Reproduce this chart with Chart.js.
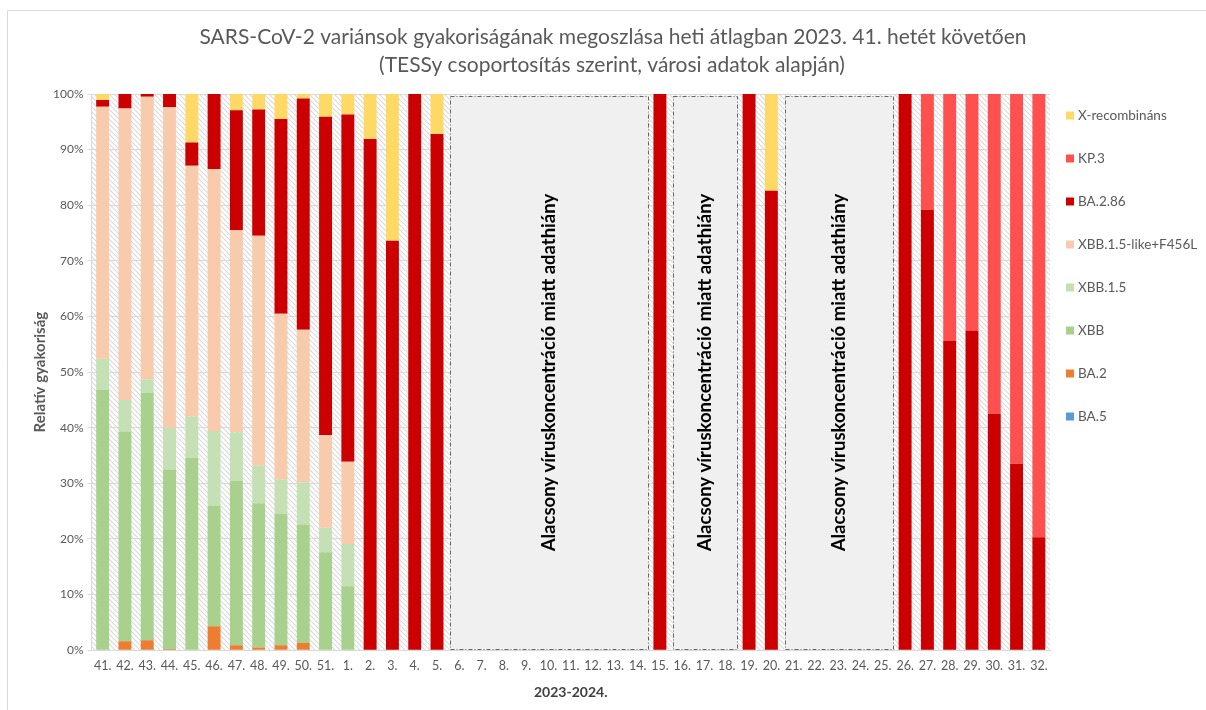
<!DOCTYPE html>
<html lang="hu">
<head>
<meta charset="utf-8">
<title>SARS-CoV-2 variánsok</title>
<script src="https://cdn.jsdelivr.net/npm/chart.js@4.4.1/dist/chart.umd.min.js"></script>
<style>
  html, body { margin: 0; padding: 0; background: #fff; }
  #wrap { width: 1206px; height: 710px; position: relative; }
</style>
</head>
<body>
<div id="wrap"><canvas id="chart"></canvas></div>
<script>
/* ---- Adatok ---- */
const weeks = ['41.','42.','43.','44.','45.','46.','47.','48.','49.','50.','51.','1.','2.','3.','4.','5.',
  '6.','7.','8.','9.','10.','11.','12.','13.','14.','15.','16.','17.','18.','19.','20.',
  '21.','22.','23.','24.','25.','26.','27.','28.','29.','30.','31.','32.'];

const ba5     = [0,0,0,0,0,0,0,0,0,0,0,0,0,0,0,0, null,null,null,null,null,null,null,null,null, 0, null,null,null, 0,0, null,null,null,null,null, 0,0,0,0,0,0,0];
const ba2     = [0,1.6,1.8,0.2,0,4.3,0.9,0.5,0.9,1.3,0,0,0,0,0,0, null,null,null,null,null,null,null,null,null, 0, null,null,null, 0,0, null,null,null,null,null, 0,0,0,0,0,0,0];
const xbb     = [46.8,37.7,44.5,32.3,34.6,21.7,29.5,25.9,23.6,21.3,17.6,11.5,0,0,0,0, null,null,null,null,null,null,null,null,null, 0, null,null,null, 0,0, null,null,null,null,null, 0,0,0,0,0,0,0];
const xbb15   = [5.6,5.7,2.4,7.5,7.4,13.4,8.8,6.8,6.2,7.6,4.4,7.6,0,0,0,0, null,null,null,null,null,null,null,null,null, 0, null,null,null, 0,0, null,null,null,null,null, 0,0,0,0,0,0,0];
const f456l   = [45.3,52.4,50.8,57.6,45.1,47.1,36.3,41.3,29.8,27.4,16.7,14.8,0,0,0,0, null,null,null,null,null,null,null,null,null, 0, null,null,null, 0,0, null,null,null,null,null, 0,0,0,0,0,0,0];
const ba286   = [1.2,2.6,0.5,2.4,4.2,13.5,21.6,22.7,35.0,41.6,57.2,62.4,91.9,73.6,100,92.8, null,null,null,null,null,null,null,null,null, 100, null,null,null, 100,82.6, null,null,null,null,null, 100,79.2,55.6,57.5,42.5,33.5,20.3];
const kp3     = [0,0,0,0,0,0,0,0,0,0,0,0,0,0,0,0, null,null,null,null,null,null,null,null,null, 0, null,null,null, 0,0, null,null,null,null,null, 0,20.8,44.4,42.5,57.5,66.5,79.7];
const xrec    = [1.1,0,0,0,8.7,0,2.9,2.8,4.5,0.8,4.1,3.7,8.1,26.4,0,7.2, null,null,null,null,null,null,null,null,null, 0, null,null,null, 0,17.4, null,null,null,null,null, 0,0,0,0,0,0,0];

const yTicks = [0,10,20,30,40,50,60,70,80,90,100];

// adathiányos szakaszok (első és utolsó hét)
const gaps = [['6.','14.'], ['16.','18.'], ['21.','25.']];
const gapText = 'Alacsony víruskoncentráció miatt adathiány';

const titleLines = [
  'SARS-CoV-2 variánsok gyakoriságának megoszlása heti átlagban 2023. 41. hetét követően',
  '(TESSy csoportosítás szerint, városi adatok alapján)'
];

const FONT = "Lato, 'Open Sans', sans-serif";

/* ---- Sraffozott háttér ---- */
function hatch() {
  const c = document.createElement('canvas');
  c.width = 5; c.height = 5;
  const g = c.getContext('2d');
  g.fillStyle = '#ffffff';
  g.fillRect(0, 0, 5, 5);
  g.strokeStyle = '#dadada';
  g.lineWidth = 1.1;
  g.beginPath();
  g.moveTo(-1, -1); g.lineTo(6, 6);
  g.moveTo(-6, -1); g.lineTo(1, 6);
  g.moveTo(4, -1); g.lineTo(11, 6);
  g.stroke();
  return g.createPattern(c, 'repeat');
}

const decor = {
  id: 'decor',
  beforeDraw(chart) {
    const { ctx, chartArea: a } = chart;
    ctx.save();
    // keret
    ctx.strokeStyle = '#d9d9d9';
    ctx.lineWidth = 1;
    ctx.beginPath();
    ctx.moveTo(7.5, 710); ctx.lineTo(7.5, 10.5); ctx.lineTo(1206, 10.5);
    ctx.stroke();
    // plot háttér
    ctx.fillStyle = hatch();
    ctx.fillRect(a.left, a.top, a.right - a.left, a.bottom - a.top);
    // cím
    ctx.fillStyle = '#595959';
    ctx.font = '21px ' + FONT;
    ctx.textAlign = 'center';
    ctx.textBaseline = 'middle';
    ctx.fillText(titleLines[0], 613, 37);
    ctx.fillText(titleLines[1], 612, 65);
    ctx.restore();
  },
  beforeDatasetsDraw(chart) {
    const { ctx, chartArea: a, scales: { x } } = chart;
    const half = (x.getPixelForValue(1) - x.getPixelForValue(0)) / 2;
    ctx.save();
    gaps.forEach(([from, to]) => {
      const l = x.getPixelForValue(weeks.indexOf(from)) - half + 2;
      const r = x.getPixelForValue(weeks.indexOf(to)) + half - 1;
      const t = a.top + 2, b = a.bottom - 1;
      ctx.fillStyle = '#f0f0f0';
      ctx.fillRect(l, t, r - l, b - t);
      ctx.strokeStyle = '#404040';
      ctx.lineWidth = 0.8;
      ctx.setLineDash([4, 2, 1, 2]);
      ctx.strokeRect(Math.round(l) + 0.5, Math.round(t) + 0.5, Math.round(r - l), Math.round(b - t));
      ctx.setLineDash([]);
      ctx.translate((l + r) / 2, (t + b) / 2);
      ctx.rotate(-Math.PI / 2);
      ctx.fillStyle = '#000';
      ctx.font = 'bold 18.5px ' + FONT;
      ctx.textAlign = 'center';
      ctx.textBaseline = 'middle';
      ctx.fillText(gapText, 0, 0);
      ctx.setTransform(1, 0, 0, 1, 0, 0);
    });
    ctx.restore();
  },
  afterDraw(chart) {
    const { ctx } = chart;
    const ds = chart.data.datasets.slice().reverse();
    ctx.save();
    ctx.font = '13.5px ' + FONT;
    ctx.textBaseline = 'middle';
    ds.forEach((d, i) => {
      const y = 115.5 + i * 43;
      ctx.fillStyle = d.backgroundColor;
      ctx.fillRect(1066, y - 4, 8, 8);
      ctx.fillStyle = '#595959';
      ctx.fillText(d.label, 1078, y);
    });
    ctx.restore();
  }
};

const mk = (label, data, color) => ({ label, data, backgroundColor: color, borderWidth: 0 });

new Chart(document.getElementById('chart'), {
  type: 'bar',
  data: {
    labels: weeks,
    datasets: [
      mk('BA.5', ba5, '#5B9BD5'),
      mk('BA.2', ba2, '#ED7D31'),
      mk('XBB', xbb, '#A9D18E'),
      mk('XBB.1.5', xbb15, '#C5E0B4'),
      mk('XBB.1.5-like+F456L', f456l, '#F8CBAD'),
      mk('BA.2.86', ba286, '#CC0000'),
      mk('KP.3', kp3, '#FF5050'),
      mk('X-recombináns', xrec, '#FFD966')
    ]
  },
  options: {
    responsive: true,
    maintainAspectRatio: false,
    animation: false,
    barPercentage: 0.58,
    categoryPercentage: 1,
    layout: { padding: { top: 94, right: 156, bottom: 9, left: 31 } },
    plugins: {
      legend: { display: false },
      title: { display: false },
      tooltip: { enabled: false }
    },
    scales: {
      x: {
        stacked: true,
        grid: { display: false, drawTicks: false },
        border: { display: true, color: '#d9d9d9', width: 1 },
        ticks: { color: '#595959', font: { family: FONT, size: 12.5 }, maxRotation: 0, autoSkip: false, padding: 8 },
        title: { display: true, text: '2023-2024.', color: '#404040', font: { family: FONT, size: 14, weight: 'bold' }, padding: { top: 3, bottom: 0 } }
      },
      y: {
        stacked: true,
        min: 0, max: 100,
        afterBuildTicks: s => { s.ticks = yTicks.map(v => ({ value: v })); },
        grid: { color: '#d9d9d9', tickLength: 4, tickColor: '#d9d9d9' },
        border: { display: true, color: '#d9d9d9' },
        ticks: { color: '#595959', font: { family: FONT, size: 12 }, callback: v => v + '%', padding: 4 },
        title: { display: true, text: 'Relatív gyakoriság', color: '#595959', font: { family: FONT, size: 15, weight: 'bold' }, padding: { top: 0, bottom: 0 } }
      }
    }
  },
  plugins: [decor]
});
</script>
</body>
</html>
